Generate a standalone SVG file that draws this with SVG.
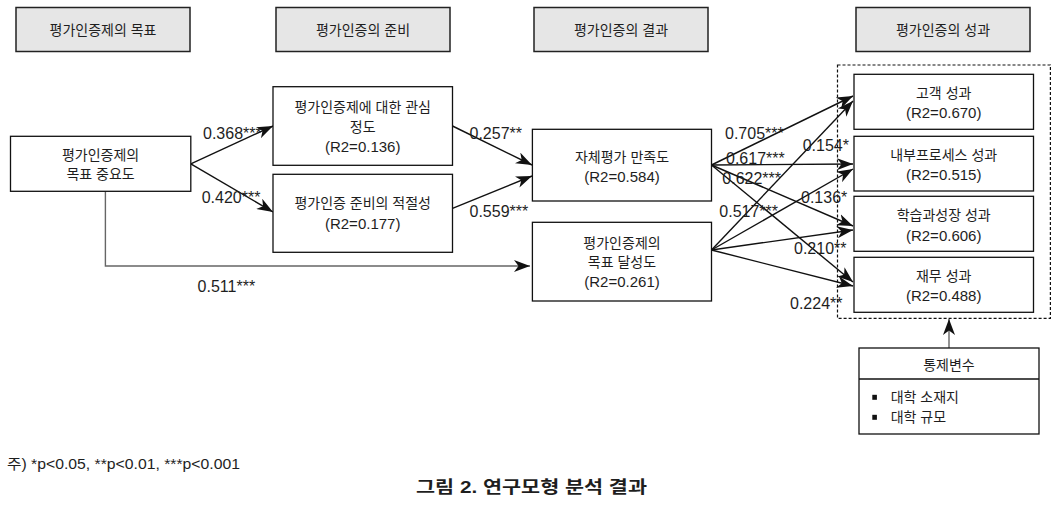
<svg xmlns="http://www.w3.org/2000/svg" width="1061" height="508" viewBox="0 0 1061 508">
<style>
text{font-family:"Liberation Sans","Noto Sans CJK KR",sans-serif;fill:#1e1e1e;dominant-baseline:central}
.ko{font-size:14px;text-anchor:middle}
.num{font-size:15px;text-anchor:middle}
.lbl{font-size:16px;text-anchor:start}
.hdr{fill:#e6e6e6;stroke:#222;stroke-width:1.5}
.box{fill:#fff;stroke:#111;stroke-width:1.3}
.edge{fill:none;stroke:#111;stroke-width:1.4;marker-end:url(#ah)}
.gray{fill:none;stroke:#666;stroke-width:1.4;marker-end:url(#ah)}
</style>
<defs>
<marker id="ah" markerUnits="userSpaceOnUse" viewBox="0 0 16 12" refX="16" refY="6" markerWidth="16" markerHeight="12" orient="auto">
<path d="M0,0 L16,6 L0,12 L4.5,6 Z" fill="#111"/>
</marker>
</defs>
<rect width="1061" height="508" fill="#fff"/>

<g id="header-goal"><rect class="hdr" x="16" y="7.5" width="174" height="44"/><text class="ko" x="103" y="29.5">평가인증제의 목표</text></g>
<g id="header-prep"><rect class="hdr" x="276" y="7.5" width="174" height="44"/><text class="ko" x="363" y="29.5">평가인증의 준비</text></g>
<g id="header-result"><rect class="hdr" x="534" y="7.5" width="174" height="44"/><text class="ko" x="621" y="29.5">평가인증의 결과</text></g>
<g id="header-perf"><rect class="hdr" x="856" y="7.5" width="174" height="44"/><text class="ko" x="943" y="29.5">평가인증의 성과</text></g>

<g id="connectors">
<path class="gray" d="M105.4,191.3 V266 H530"/>
<line class="edge" x1="190.8" y1="163.8" x2="273" y2="126"/>
<line class="edge" x1="190.8" y1="163.8" x2="273" y2="212"/>
<line class="edge" x1="452.5" y1="126" x2="532" y2="165"/>
<line class="edge" x1="452.5" y1="208.3" x2="532" y2="176"/>
<line class="edge" x1="711.5" y1="165" x2="853" y2="96"/>
<line class="edge" x1="711.5" y1="165" x2="853" y2="164"/>
<line class="edge" x1="711.5" y1="165" x2="853" y2="226"/>
<line class="edge" x1="711.5" y1="165" x2="853" y2="282"/>
<line class="edge" x1="711.5" y1="250" x2="853" y2="101"/>
<line class="edge" x1="711.5" y1="250" x2="853" y2="169"/>
<line class="edge" x1="711.5" y1="250" x2="853" y2="230"/>
<line class="edge" x1="711.5" y1="250" x2="853" y2="286"/>
<line class="gray" x1="949" y1="348" x2="949" y2="319"/>
</g>

<g id="node-importance"><rect class="box" x="10.5" y="136.3" width="180.3" height="55"/><text class="ko" x="100.6" y="155">평가인증제의</text><text class="ko" x="100.6" y="173.5">목표 중요도</text></g>
<g id="node-interest"><rect class="box" x="273" y="86.7" width="179.5" height="78.6"/><text class="ko" x="362.7" y="107">평가인증제에 대한 관심</text><text class="ko" x="362.7" y="126.5">정도</text><text class="num" x="362.7" y="146.3">(R2=0.136)</text></g>
<g id="node-adequacy"><rect class="box" x="273" y="174.3" width="179.5" height="78"/><text class="ko" x="362.7" y="203.3">평가인증 준비의 적절성</text><text class="num" x="362.7" y="223.3">(R2=0.177)</text></g>
<g id="node-satisfaction"><rect class="box" x="532.4" y="129.3" width="179.1" height="71.7"/><text class="ko" x="622" y="156.7">자체평가 만족도</text><text class="num" x="622" y="176.7">(R2=0.584)</text></g>
<g id="node-achievement"><rect class="box" x="532.4" y="222.3" width="179.1" height="78.7"/><text class="ko" x="622" y="242.7">평가인증제의</text><text class="ko" x="622" y="261.7">목표 달성도</text><text class="num" x="622" y="281.7">(R2=0.261)</text></g>

<g id="outcome-group"><rect x="837.5" y="65" width="212.9" height="253.3" fill="none" stroke="#111" stroke-width="1.2" stroke-dasharray="3,2"/></g>
<g id="node-customer"><rect class="box" x="854" y="74.3" width="179.5" height="55"/><text class="ko" x="943.7" y="93.3">고객 성과</text><text class="num" x="943.7" y="112.7">(R2=0.670)</text></g>
<g id="node-internal"><rect class="box" x="854" y="136.3" width="179.5" height="54.7"/><text class="ko" x="943.7" y="155">내부프로세스 성과</text><text class="num" x="943.7" y="174">(R2=0.515)</text></g>
<g id="node-learning"><rect class="box" x="854" y="196.3" width="179.5" height="55"/><text class="ko" x="943.7" y="215">학습과성장 성과</text><text class="num" x="943.7" y="235">(R2=0.606)</text></g>
<g id="node-finance"><rect class="box" x="854" y="257.3" width="179.5" height="55"/><text class="ko" x="943.7" y="276">재무 성과</text><text class="num" x="943.7" y="295">(R2=0.488)</text></g>

<g id="node-control">
<rect class="box" x="859" y="348" width="180" height="86"/>
<line x1="859" y1="379" x2="1039" y2="379" stroke="#111" stroke-width="1.3"/>
<text class="ko" x="949" y="365">통제변수</text>
<rect x="872.3" y="394.8" width="4.6" height="5" fill="#111"/>
<rect x="872.3" y="414.8" width="4.6" height="5" fill="#111"/>
<text x="890.7" y="397.3" style="font-size:14px">대학 소재지</text>
<text x="890.7" y="417.3" style="font-size:14px">대학 규모</text>
</g>

<g id="labels">
<text class="lbl" x="203" y="133.3">0.368***</text>
<text class="lbl" x="201.7" y="197.7">0.420***</text>
<text class="lbl" x="197.6" y="286.7">0.511***</text>
<text class="lbl" x="469.5" y="133">0.257**</text>
<text class="lbl" x="469.5" y="211">0.559***</text>
<text class="lbl" x="725" y="133.3">0.705***</text>
<text class="lbl" x="726" y="158.3">0.617***</text>
<text class="lbl" x="722.3" y="178.3">0.622***</text>
<text class="lbl" x="719.3" y="211.7">0.517***</text>
<text class="lbl" x="802.7" y="145">0.154*</text>
<text class="lbl" x="801" y="197.3">0.136*</text>
<text class="lbl" x="794" y="248.3">0.210**</text>
<text class="lbl" x="790" y="303.3">0.224**</text>
</g>

<text x="7" y="464" style="font-size:14px" textLength="233" lengthAdjust="spacingAndGlyphs">주) *p&lt;0.05, **p&lt;0.01, ***p&lt;0.001</text>
<text x="531.5" y="487" style="font-size:17px;font-weight:bold;text-anchor:middle" textLength="231" lengthAdjust="spacingAndGlyphs">그림 2. 연구모형 분석 결과</text>
</svg>
